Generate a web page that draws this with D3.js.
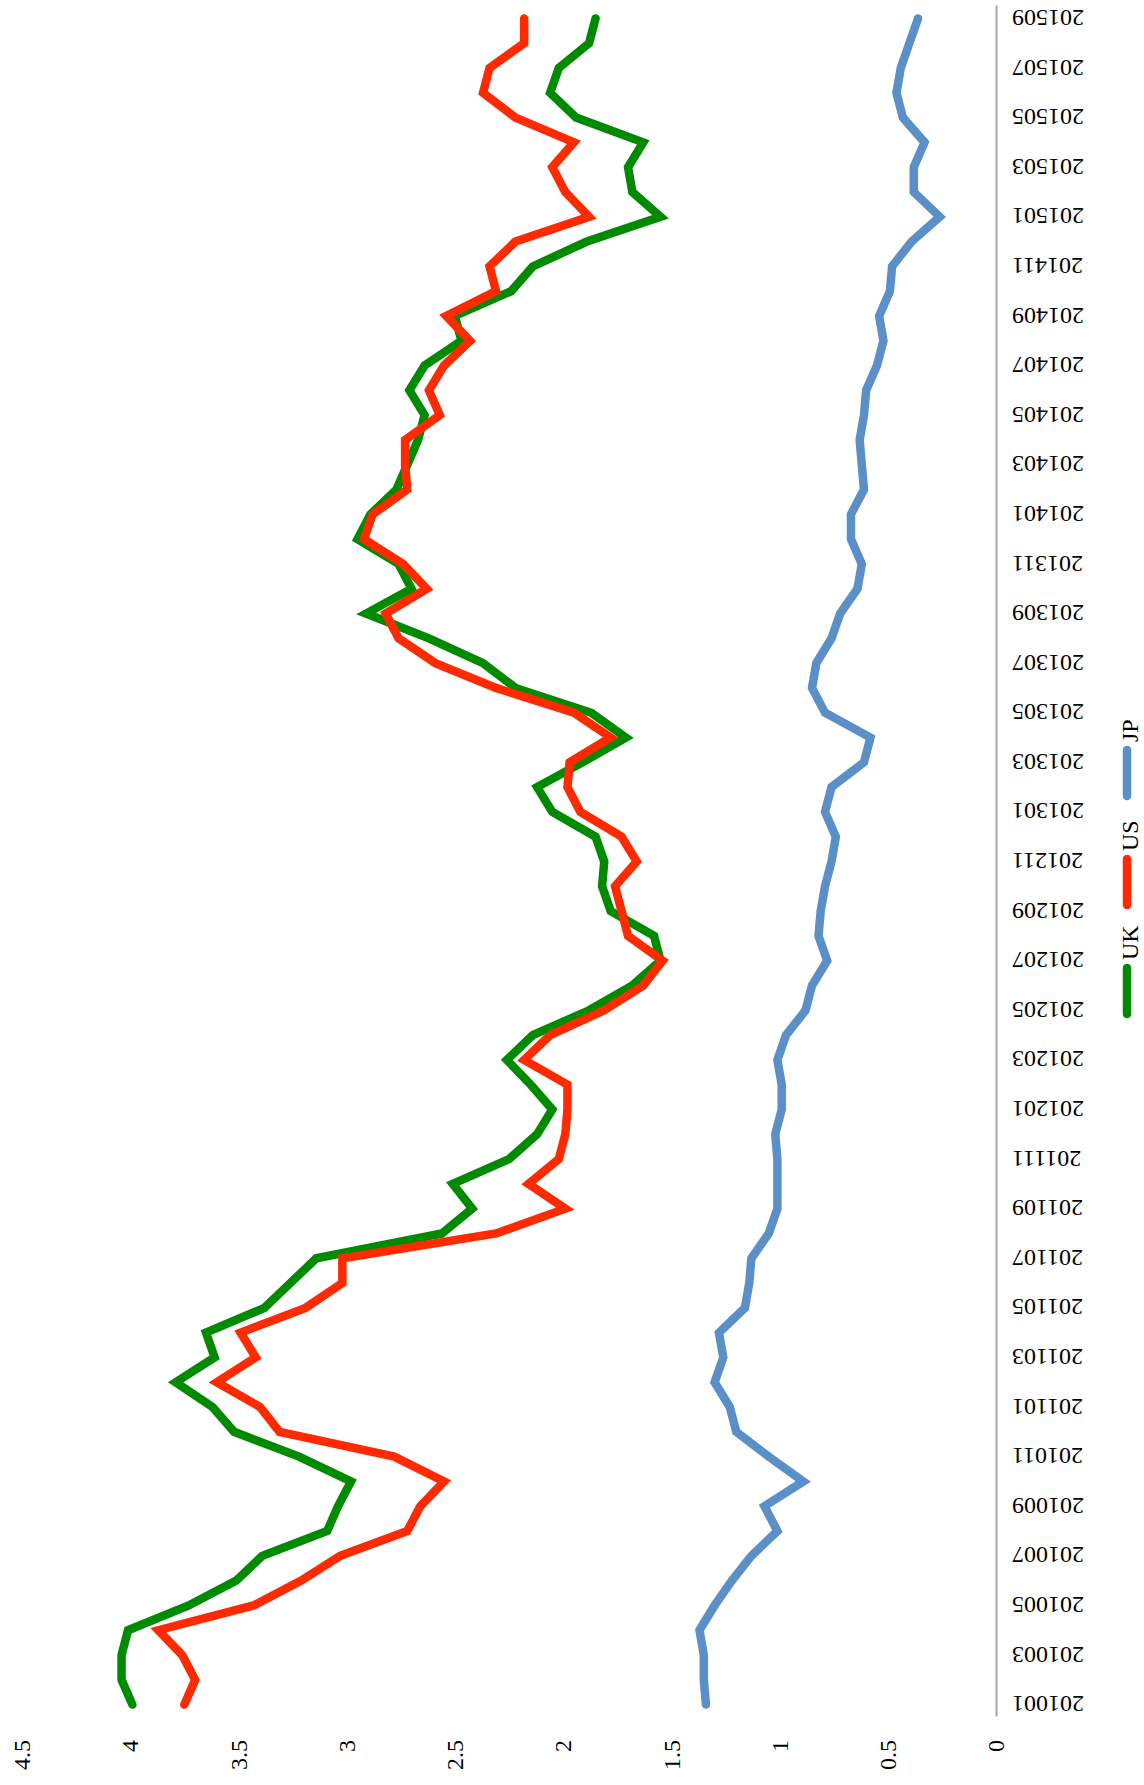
<!DOCTYPE html>
<html>
<head>
<meta charset="utf-8">
<script src="https://cdn.jsdelivr.net/npm/d3@7"></script>
<style>
  body { margin: 0; background: #fff; }
  svg { display: block; }
</style>
</head>
<body>
<svg id="chart" width="1144" height="1785"></svg>
<script>
// month labels, 201001 .. 201509
const months = [
  "201001","201002","201003","201004","201005","201006","201007","201008","201009","201010","201011","201012",
  "201101","201102","201103","201104","201105","201106","201107","201108","201109","201110","201111","201112",
  "201201","201202","201203","201204","201205","201206","201207","201208","201209","201210","201211","201212",
  "201301","201302","201303","201304","201305","201306","201307","201308","201309","201310","201311","201312",
  "201401","201402","201403","201404","201405","201406","201407","201408","201409","201410","201411","201412",
  "201501","201502","201503","201504","201505","201506","201507","201508","201509"
]

const uk = [3.99, 4.04, 4.04, 4.01, 3.73, 3.51, 3.39, 3.09, 3.04, 2.98, 3.22, 3.52,
            3.62, 3.79, 3.61, 3.65, 3.38, 3.26, 3.14, 2.56, 2.42, 2.51, 2.25, 2.12,
            2.05, 2.15, 2.26, 2.14, 1.88, 1.68, 1.55, 1.58, 1.78, 1.82, 1.81, 1.85,
            2.05, 2.12, 1.91, 1.71, 1.87, 2.22, 2.37, 2.62, 2.91, 2.70, 2.76, 2.95,
            2.89, 2.77, 2.72, 2.67, 2.64, 2.71, 2.64, 2.47, 2.50, 2.24, 2.14, 1.89,
            1.55, 1.68, 1.70, 1.63, 1.94, 2.06, 2.02, 1.88, 1.85]

const us = [3.75, 3.70, 3.76, 3.87, 3.43, 3.21, 3.03, 2.72, 2.66, 2.55, 2.78, 3.31,
            3.40, 3.60, 3.42, 3.49, 3.19, 3.02, 3.02, 2.31, 1.99, 2.16, 2.02, 1.99,
            1.98, 1.98, 2.18, 2.06, 1.81, 1.63, 1.54, 1.70, 1.73, 1.76, 1.66, 1.73,
            1.92, 1.98, 1.97, 1.78, 1.95, 2.31, 2.59, 2.76, 2.82, 2.63, 2.74, 2.92,
            2.88, 2.72, 2.73, 2.73, 2.57, 2.62, 2.55, 2.43, 2.54, 2.31, 2.34, 2.22,
            1.88, 1.99, 2.05, 1.95, 2.22, 2.37, 2.34, 2.18, 2.18]

const jp = [1.34, 1.35, 1.35, 1.37, 1.30, 1.22, 1.13, 1.01, 1.07, 0.89, 1.05, 1.20,
            1.23, 1.30, 1.26, 1.28, 1.16, 1.14, 1.13, 1.05, 1.01, 1.01, 1.01, 1.02,
            0.99, 0.99, 1.01, 0.97, 0.88, 0.85, 0.78, 0.82, 0.81, 0.79, 0.76, 0.74,
            0.79, 0.76, 0.61, 0.58, 0.79, 0.85, 0.83, 0.76, 0.72, 0.64, 0.62, 0.67,
            0.67, 0.61, 0.62, 0.63, 0.61, 0.60, 0.55, 0.52, 0.54, 0.49, 0.48, 0.39,
            0.26, 0.38, 0.38, 0.33, 0.43, 0.46, 0.44, 0.40, 0.36]

const seriesNames = ["UK", "US", "JP"]
const seriesColors = ["#008a00", "#ff2a00", "#5b8fc7"]
const valueTicks = [0, 0.5, 1, 1.5, 2, 2.5, 3, 3.5, 4, 4.5]
const dateTicks = months.filter((m, i) => i % 2 === 0)

// the chart is laid out flat (1785 wide, 1144 tall) and then turned a quarter turn
const W = 1785, H = 1144
const margin = { left: 68, right: 6, top: 22, bottom: 148 }
const font = "'Liberation Serif', 'Times New Roman', serif"

const svg = d3.select("#chart")
const g = svg.append("g")
    .attr("transform", `translate(0,${W}) rotate(-90)`)

const x = d3.scaleBand()
    .domain(months)
    .range([margin.left, W - margin.right])
    .padding(0)

const y = d3.scaleLinear()
    .domain([0, 4.5])
    .range([H - margin.bottom, margin.top])

const cx = m => x(m) + x.bandwidth() / 2

// category axis
const xAxis = g.append("g")
    .attr("class", "x-axis")
    .attr("transform", `translate(0,${y(0)})`)
    .call(d3.axisBottom(x).tickValues(dateTicks).tickSize(0).tickSizeOuter(0))
xAxis.select(".domain").attr("stroke", "#a6a6a6").attr("stroke-width", 2)
xAxis.selectAll("text")
    .attr("transform", "rotate(-90)")
    .attr("x", -16)
    .attr("y", 0)
    .attr("dy", "0.35em")
    .attr("text-anchor", "end")
    .attr("font-family", font)
    .attr("font-size", 24)
    .attr("fill", "#000")

// value axis, labels only
const yAxis = g.append("g")
    .attr("class", "y-axis")
    .attr("transform", `translate(45,0)`)
    .call(d3.axisLeft(y).tickValues(valueTicks).tickSize(0).tickPadding(0).tickFormat(d => String(d)))
yAxis.select(".domain").remove()
yAxis.selectAll("text")
    .attr("font-family", font)
    .attr("font-size", 24)
    .attr("fill", "#000")

// lines
const line = d3.line()
    .x((d, i) => cx(months[i]))
    .y(d => y(d))

const seriesData = [uk, us, jp]

g.append("g")
    .attr("class", "lines")
    .selectAll("path")
    .data(seriesData)
    .join("path")
    .attr("d", line)
    .attr("fill", "none")
    .attr("stroke", (d, i) => seriesColors[i])
    .attr("stroke-width", 8.5)
    .attr("stroke-linejoin", "miter")
    .attr("stroke-miterlimit", 4)
    .attr("stroke-linecap", "round")

// legend
const legend = g.append("g")
    .attr("class", "legend")
    .attr("transform", "translate(767,1127)")

seriesNames.forEach(function (name, i) {
    const item = legend.append("g").attr("transform", `translate(${i * 109},0)`)
    item.append("line")
        .attr("x1", 4).attr("x2", 50)
        .attr("y1", 0).attr("y2", 0)
        .attr("stroke", seriesColors[i])
        .attr("stroke-width", 8.5)
        .attr("stroke-linecap", "round")
    item.append("text")
        .text(name)
        .attr("x", 58)
        .attr("y", 3)
        .attr("dy", "0.35em")
        .attr("font-family", font)
        .attr("font-size", 24)
        .attr("fill", "#000")
})
</script>
</body>
</html>
